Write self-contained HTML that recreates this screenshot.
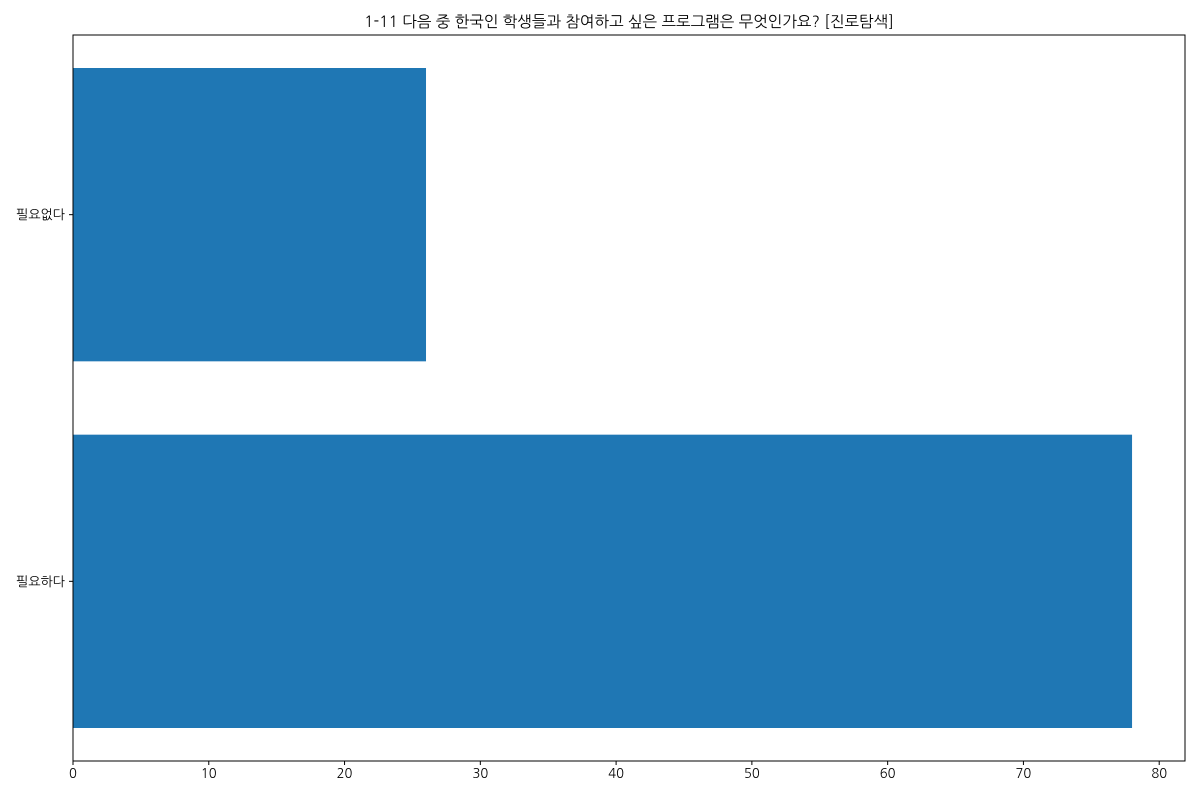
<!DOCTYPE html>
<html><head><meta charset="utf-8">
<style>
html,body{margin:0;padding:0;background:#fff;}
svg text{font-family:"NanumGothic","Noto Sans CJK KR","Liberation Sans",sans-serif;}
</style></head>
<body>
<svg id="chart" width="1200" height="800" xmlns="http://www.w3.org/2000/svg">
<text x="629" y="27" font-size="15.5" text-anchor="middle" fill="#000">1-11 다음 중 한국인 학생들과 참여하고 싶은 프로그램은 무엇인가요? [진로탐색]</text>
<g id="plot"></g>
<rect x="73" y="35" width="1112" height="726" fill="none" stroke="#000" stroke-width="1"/>
</svg>
<script>
const categories = ["필요하다", "필요없다"];
const values = [78, 26];
const xTicks = [0, 10, 20, 30, 40, 50, 60, 70, 80];

const L = 73, R = 1185, T = 35, B = 761;
const xMax = 81.9, yMin = -0.49, yMax = 1.49;
const xs = v => L + (v / xMax) * (R - L);
const ys = v => B - (v - yMin) / (yMax - yMin) * (B - T);
const NS = "http://www.w3.org/2000/svg";
const g = document.getElementById("plot");
function mk(tag, attrs) { const e = document.createElementNS(NS, tag); for (const k in attrs) e.setAttribute(k, attrs[k]); g.appendChild(e); return e; }

values.forEach((v, i) => {
  const r = mk("rect", {x: xs(0), y: ys(i + 0.4), width: xs(v) - xs(0), height: ys(i - 0.4) - ys(i + 0.4), fill: "#1f77b4"});
  
  
  const t = mk("line", {x1: L, x2: L - 4, y1: ys(i), y2: ys(i), stroke: "#000"});
  
  
  const lb = mk("text", {x: L - 8, y: ys(i) + 4.5, "font-size": "13", "text-anchor": "end"});
  lb.textContent = categories[i];
  
  
});
xTicks.forEach(v => {
  const t = mk("line", {x1: xs(v), x2: xs(v), y1: B, y2: B + 4, stroke: "#000"});
  
  
  const lb = mk("text", {x: xs(v), y: B + 17, "font-size": "13", "text-anchor": "middle"});
  lb.textContent = v;
  
  
});
</script>
</body></html>
